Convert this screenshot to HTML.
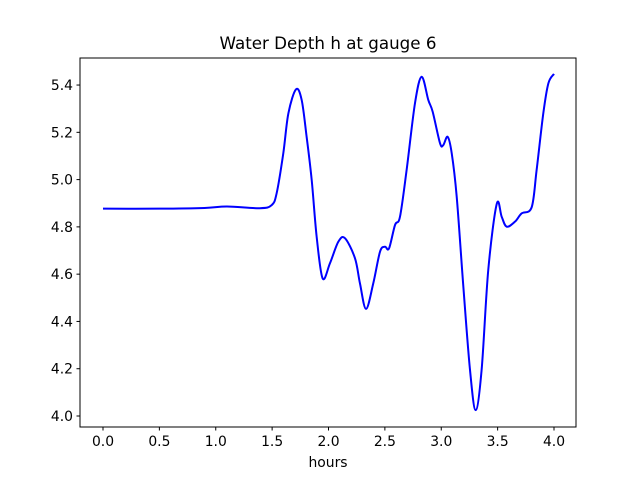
<!DOCTYPE html>
<html><head><meta charset="utf-8"><style>
html,body{margin:0;padding:0;background:#fff;}
svg{display:block;font-family:"DejaVu Sans","Liberation Sans",sans-serif;}
</style></head><body>
<svg id="chart" width="640" height="480" viewBox="0 0 640 480" xmlns="http://www.w3.org/2000/svg">
<rect width="640" height="480" fill="#fff"/>
<text x="328" y="49" text-anchor="middle" font-size="16.7">Water Depth h at gauge 6</text>
<g id="plot"></g>
<rect x="80" y="58" width="496" height="369" fill="none" stroke="#000" stroke-width="1"/>
<text x="328" y="467" text-anchor="middle" font-size="13.9">hours</text>
</svg>
<script>
const hours=[0,0.5,0.9,1.1,1.392,1.496,1.54,1.599,1.644,1.712,1.762,1.806,1.851,1.895,1.948,2.013,2.087,2.146,2.235,2.279,2.333,2.397,2.457,2.501,2.537,2.59,2.634,2.693,2.767,2.826,2.885,2.924,2.989,3.018,3.057,3.093,3.137,3.196,3.255,3.305,3.358,3.417,3.492,3.536,3.58,3.654,3.713,3.802,3.846,3.905,3.95,4.0];
const depth=[4.877,4.877,4.880,4.886,4.879,4.892,4.942,5.111,5.28,5.382,5.337,5.181,4.998,4.758,4.582,4.646,4.737,4.752,4.667,4.561,4.453,4.561,4.695,4.716,4.709,4.808,4.843,5.041,5.323,5.435,5.337,5.287,5.154,5.146,5.181,5.111,4.928,4.547,4.195,4.025,4.195,4.618,4.897,4.843,4.801,4.822,4.857,4.883,5.041,5.28,5.407,5.447];
const xTicks=[0,0.5,1,1.5,2,2.5,3,3.5,4];
const xTickLabels=["0.0","0.5","1.0","1.5","2.0","2.5","3.0","3.5","4.0"];
const yTicks=[4.0,4.2,4.4,4.6,4.8,5.0,5.2,5.4];
const yTickLabels=["4.0","4.2","4.4","4.6","4.8","5.0","5.2","5.4"];

const NS="http://www.w3.org/2000/svg";
const g=document.getElementById('plot');
function xs(v){return 103+v*112.75;}
function ys(v){return 416-(v-4)*236.4;}
function mk(t,a){const e=document.createElementNS(NS,t);for(const k in a)e.setAttribute(k,a[k]);return e;}

xTicks.forEach((t,i)=>{
  const l=mk('line',{x1:xs(t),x2:xs(t),y1:427,y2:430.5,stroke:'#000'});
  
  
  g.appendChild(l);
  const tx=mk('text',{x:xs(t),y:446,'text-anchor':'middle','font-size':'13.9'});
  tx.textContent=xTickLabels[i];
  
  
  g.appendChild(tx);
});
yTicks.forEach((t,i)=>{
  const l=mk('line',{x1:76.5,x2:80,y1:ys(t),y2:ys(t),stroke:'#000'});
  
  
  g.appendChild(l);
  const tx=mk('text',{x:73,y:ys(t)+5,'text-anchor':'end','font-size':'13.9'});
  tx.textContent=yTickLabels[i];
  
  
  g.appendChild(tx);
});

const P=hours.map((h,i)=>[xs(h),ys(depth[i])]);
let d='M'+P[0][0]+','+P[0][1];
for(let i=0;i<P.length-1;i++){
  const p0=P[Math.max(0,i-1)],p1=P[i],p2=P[i+1],p3=P[Math.min(P.length-1,i+2)];
  const c1=[p1[0]+(p2[0]-p0[0])/6,p1[1]+(p2[1]-p0[1])/6];
  const c2=[p2[0]-(p3[0]-p1[0])/6,p2[1]-(p3[1]-p1[1])/6];
  d+=' C'+c1[0]+','+c1[1]+' '+c2[0]+','+c2[1]+' '+p2[0]+','+p2[1];
}
const path=mk('path',{d:d,fill:'none',stroke:'#0000ff','stroke-width':2,'stroke-linejoin':'round'});


g.appendChild(path);
</script>
</body></html>
